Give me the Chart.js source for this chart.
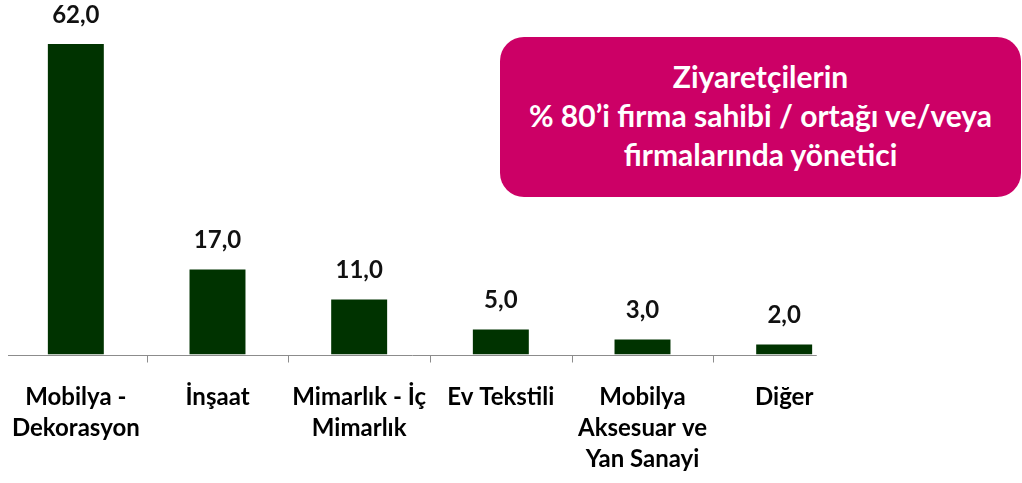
<!DOCTYPE html>
<html>
<head>
<meta charset="utf-8">
<script src="https://cdn.jsdelivr.net/npm/chart.js@4/dist/chart.umd.min.js"></script>
<style>
  html, body { margin: 0; padding: 0; background: #fff; }
  #wrap { position: relative; width: 1022px; height: 483px; }
  #note {
    position: absolute; left: 500px; top: 37px; width: 521px; height: 160px;
    background: #cc0066; border-radius: 24px; color: #fff;
    font-family: Lato, "Open Sans", sans-serif; font-weight: bold;
    font-size: 30px; line-height: 39px; text-align: center;
    box-sizing: border-box; padding-top: 20px;
  }
</style>
</head>
<body>
<div id="wrap">
  <canvas id="plot_canvas" width="1022" height="483"></canvas>
  <div id="note">Ziyaretçilerin<br>% 80’i firma sahibi / ortağı ve/veya<br>firmalarında yönetici</div>
</div>
<script>
const categories = [
  ["Mobilya -", "Dekorasyon"],
  ["İnşaat"],
  ["Mimarlık - İç", "Mimarlık"],
  ["Ev Tekstili"],
  ["Mobilya", "Aksesuar ve", "Yan Sanayi"],
  ["Diğer"]
];
const values = [62.0, 17.0, 11.0, 5.0, 3.0, 2.0];
const valueLabels = ["62,0", "17,0", "11,0", "5,0", "3,0", "2,0"];

const barColor = "#003300";
const fontFamily = "Lato, 'Open Sans', sans-serif";

// values above the bars
const valueLabelPlugin = {
  id: "valueLabels",
  afterDatasetsDraw(chart) {
    const ctx = chart.ctx;
    const meta = chart.getDatasetMeta(0);
    ctx.save();
    ctx.font = "bold 24px " + fontFamily;
    ctx.fillStyle = "#111";
    ctx.textAlign = "center";
    ctx.textBaseline = "alphabetic";
    meta.data.forEach(function (bar, i) {
      ctx.fillText(valueLabels[i], bar.x, bar.y - 21);
    });
    ctx.restore();
  }
};

// axis line + tick marks between categories (original is cut short on the right)
const axisLinePlugin = {
  id: "axisLine",
  afterDraw(chart) {
    const ctx = chart.ctx;
    const x = chart.scales.x;
    const y = Math.round(chart.scales.y.getPixelForValue(0)) + 0.5;
    const step = x.getPixelForValue(1) - x.getPixelForValue(0);
    ctx.save();
    ctx.strokeStyle = "#8c8c8c";
    ctx.lineWidth = 1;
    ctx.beginPath();
    ctx.moveTo(chart.chartArea.left + 3, y);
    ctx.lineTo(x.getPixelForValue(categories.length - 1) + step * 0.23, y);
    for (let i = 1; i < categories.length; i++) {
      const tx = Math.round(x.getPixelForValue(i) - step / 2) + 0.5;
      ctx.moveTo(tx, y);
      ctx.lineTo(tx, y + 7);
    }
    ctx.stroke();
    ctx.restore();
  }
};

const config = {
  type: "bar",
  data: {
    labels: categories,
    datasets: [{
      data: values,
      backgroundColor: barColor,
      borderWidth: 0,
      categoryPercentage: 1.0,
      barPercentage: 0.395
    }]
  },
  options: {
    responsive: false,
    animation: false,
    layout: { padding: { left: 5, right: 167, top: 4, bottom: 0 } },
    scales: {
      y: {
        display: false,
        min: 0,
        max: 70
      },
      x: {
        afterFit: function (scale) {
          scale.height = 128.5;
          scale.paddingLeft = 0;
          scale.paddingRight = 0;
        },
        border: { display: false },
        grid: { display: false },
        ticks: {
          color: "#000",
          padding: 19,
          maxRotation: 0,
          autoSkip: false,
          font: { family: fontFamily, size: 24, weight: "bold", lineHeight: 1.3 }
        }
      }
    },
    plugins: {
      legend: { display: false },
      tooltip: { enabled: false }
    }
  },
  plugins: [valueLabelPlugin, axisLinePlugin]
};

new Chart(document.getElementById("plot_canvas"), config);
</script>
</body>
</html>
